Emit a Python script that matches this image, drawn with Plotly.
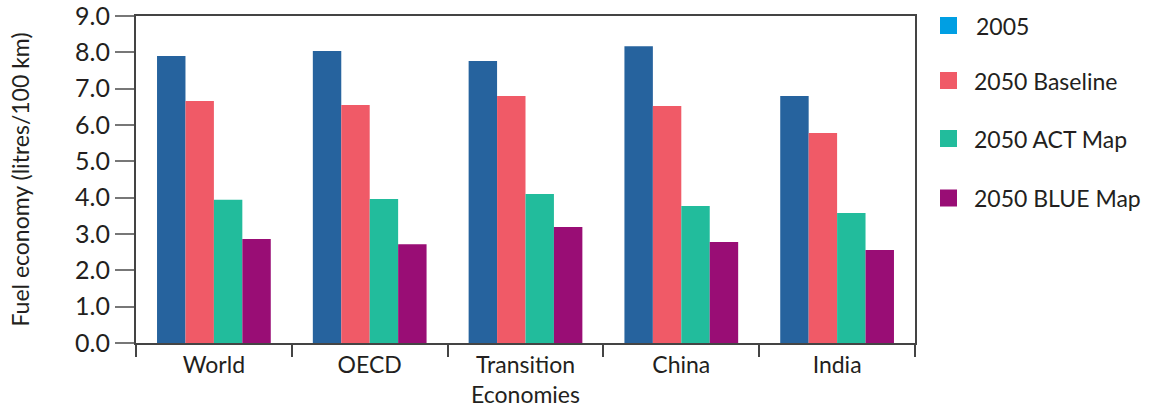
import plotly.graph_objects as go

categories = ["World", "OECD", "Transition<br>Economies", "China", "India"]
series_names = ["2005", "2050 Baseline", "2050 ACT Map", "2050 BLUE Map"]
v2005 = [7.90, 8.04, 7.76, 8.17, 6.80]
v2050_baseline = [6.66, 6.55, 6.80, 6.52, 5.78]
v2050_act = [3.94, 3.96, 4.10, 3.77, 3.58]
v2050_blue = [2.86, 2.72, 3.19, 2.78, 2.56]
bar_colors = ["#26639E", "#F05A67", "#22BC9C", "#990D75"]
legend_colors = ["#009FE3", "#F05A67", "#22BC9C", "#990D75"]
y_ticks = [0, 1, 2, 3, 4, 5, 6, 7, 8, 9]

FONT = "Lato"
TXT = "#231F20"

fig = go.Figure()
for name, vals, col in zip(series_names, [v2005, v2050_baseline, v2050_act, v2050_blue], bar_colors):
    fig.add_trace(go.Bar(x=categories, y=vals, name=name, marker_color=col,
                         marker_line_width=0, showlegend=False))

W, H = 1151, 409
ml, mr, mt, mb = 136, 236, 16, 66
pw, ph = W - ml - mr, H - mt - mb

def px_to_paper(x, y):
    return (x - ml) / pw, 1 - (y - mt) / ph

shapes = []
annotations = []
legend_y = [25.5, 80.5, 138.5, 198]
for i, (name, col) in enumerate(zip(series_names, legend_colors)):
    cy = legend_y[i]
    x0, y0 = px_to_paper(940, cy - 8.5)
    x1, y1 = px_to_paper(957, cy + 8.5)
    shapes.append(dict(type="rect", xref="paper", yref="paper", x0=x0, x1=x1, y0=y1, y1=y0,
                       fillcolor=col, line_width=0))
    tx, ty = px_to_paper(972 if i else 974, cy)
    annotations.append(dict(xref="paper", yref="paper", x=tx, y=ty, text=name, showarrow=False,
                            xanchor="left", yanchor="middle",
                            font=dict(family=FONT, size=23, color=TXT)))

fig.update_layout(
    width=W, height=H,
    margin=dict(l=ml, r=mr, t=mt, b=mb, autoexpand=False),
    paper_bgcolor="white", plot_bgcolor="white",
    barmode="group", bargap=0.27, bargroupgap=0,
    showlegend=False,
    font=dict(family=FONT, size=23, color=TXT),
    shapes=shapes, annotations=annotations,
    xaxis=dict(showline=True, linecolor="#444", linewidth=2, mirror=True, automargin=False,
               ticks="outside", tickson="boundaries", ticklen=12, tickwidth=2, tickcolor="#444",
               showgrid=False, tickfont=dict(family=FONT, size=23, color=TXT)),
    yaxis=dict(range=[0, 9], tickvals=y_ticks, tickformat=".1f", automargin=False,
               ticklabeloverflow="allow",
               showline=True, linecolor="#444", linewidth=2, mirror=True,
               ticks="outside", ticklen=19, tickwidth=2, tickcolor="#777",
               showgrid=False, zeroline=False,
               tickfont=dict(family=FONT, size=25, color=TXT),
               title=dict(text="Fuel economy (litres/100 km)", standoff=39,
                          font=dict(family=FONT, size=23, color=TXT))),
)

fig.write_html("out.html", config={"displayModeBar": False},
               post_script="document.body.style.margin='0';document.body.style.overflow='hidden';")
